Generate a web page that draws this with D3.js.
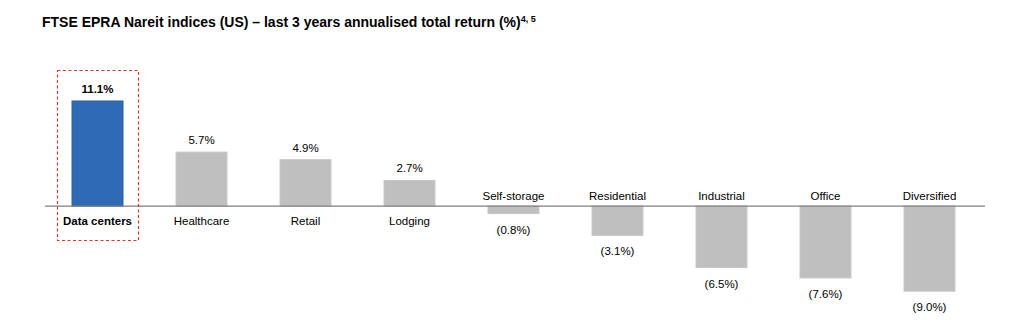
<!DOCTYPE html>
<html><head><meta charset="utf-8">
<script src="https://cdn.jsdelivr.net/npm/d3@7/dist/d3.min.js"></script>
<style>body{margin:0;background:#fff}svg{display:block;font-family:"Liberation Sans",Arial,sans-serif}</style>
</head><body><svg id="c" width="1024" height="329"></svg>
<script>
const categories = ["Data centers","Healthcare","Retail","Lodging","Self-storage","Residential","Industrial","Office","Diversified"];
const values = [11.1, 5.7, 4.9, 2.7, -0.8, -3.1, -6.5, -7.6, -9.0];
const highlighted = ["Data centers"];

const svg = d3.select("#c");
const x = d3.scaleBand().domain(categories).range([45.5, 981.5]).paddingInner(0.51).paddingOuter(0.255);
const y = d3.scaleLinear().domain([-9.0, 11.1]).range([291.2, 101]);
const fmt = v => v < 0 ? "(" + Math.abs(v).toFixed(1) + "%)" : v.toFixed(1) + "%";

svg.append("text").attr("x", 42).attr("y", 27).attr("font-size", 14).attr("font-weight", "bold").attr("fill", "#000")
  .text("FTSE EPRA Nareit indices (US) – last 3 years annualised total return (%)")
  .append("tspan").attr("font-size", 9).attr("dy", -5.5).text("4, 5");

const data = categories.map((c, i) => ({c, v: values[i], hi: highlighted.includes(c)}));

svg.selectAll("rect.bar").data(data).join("rect").attr("class", "bar")
  .attr("x", d => x(d.c)).attr("width", x.bandwidth())
  .attr("y", d => y(Math.max(0, d.v))).attr("height", d => Math.abs(y(d.v) - y(0)))
  .attr("fill", d => d.hi ? "#2f6bb4" : "#bfbfbf")
  .attr("stroke", d => d.hi ? "#285d9e" : "#c8c8c8").attr("stroke-width", 1);

svg.append("line").attr("x1", 45).attr("x2", 985).attr("y1", y(0)).attr("y2", y(0))
  .attr("stroke", "#7f7f7f").attr("stroke-width", 1.2);

// value labels
svg.selectAll("text.val").data(data).join("text").attr("class", "val")
  .attr("x", d => x(d.c) + x.bandwidth() / 2)
  .attr("y", d => d.v >= 0 ? y(d.v) - 8 : y(d.v) + 20)
  .attr("text-anchor", "middle").attr("font-size", 11.5)
  .attr("font-weight", d => d.hi ? "bold" : "normal").attr("fill", "#000")
  .text(d => fmt(d.v));

// category labels
svg.selectAll("text.cat").data(data).join("text").attr("class", "cat")
  .attr("x", d => x(d.c) + x.bandwidth() / 2)
  .attr("y", d => d.v >= 0 ? y(0) + 19 : y(0) - 6)
  .attr("text-anchor", "middle").attr("font-size", 11.5)
  .attr("font-weight", d => d.hi ? "bold" : "normal").attr("fill", "#000")
  .text(d => d.c);

// highlight box
data.filter(d => d.hi).forEach(d => {
  const cx = x(d.c) + x.bandwidth() / 2;
  svg.append("rect").attr("x", cx - 40).attr("width", 81).attr("y", 70.5).attr("height", 170)
    .attr("fill", "none").attr("stroke", "#d9392b").attr("stroke-width", 1.2).attr("stroke-dasharray", "3,2.5");
});
</script></body></html>
